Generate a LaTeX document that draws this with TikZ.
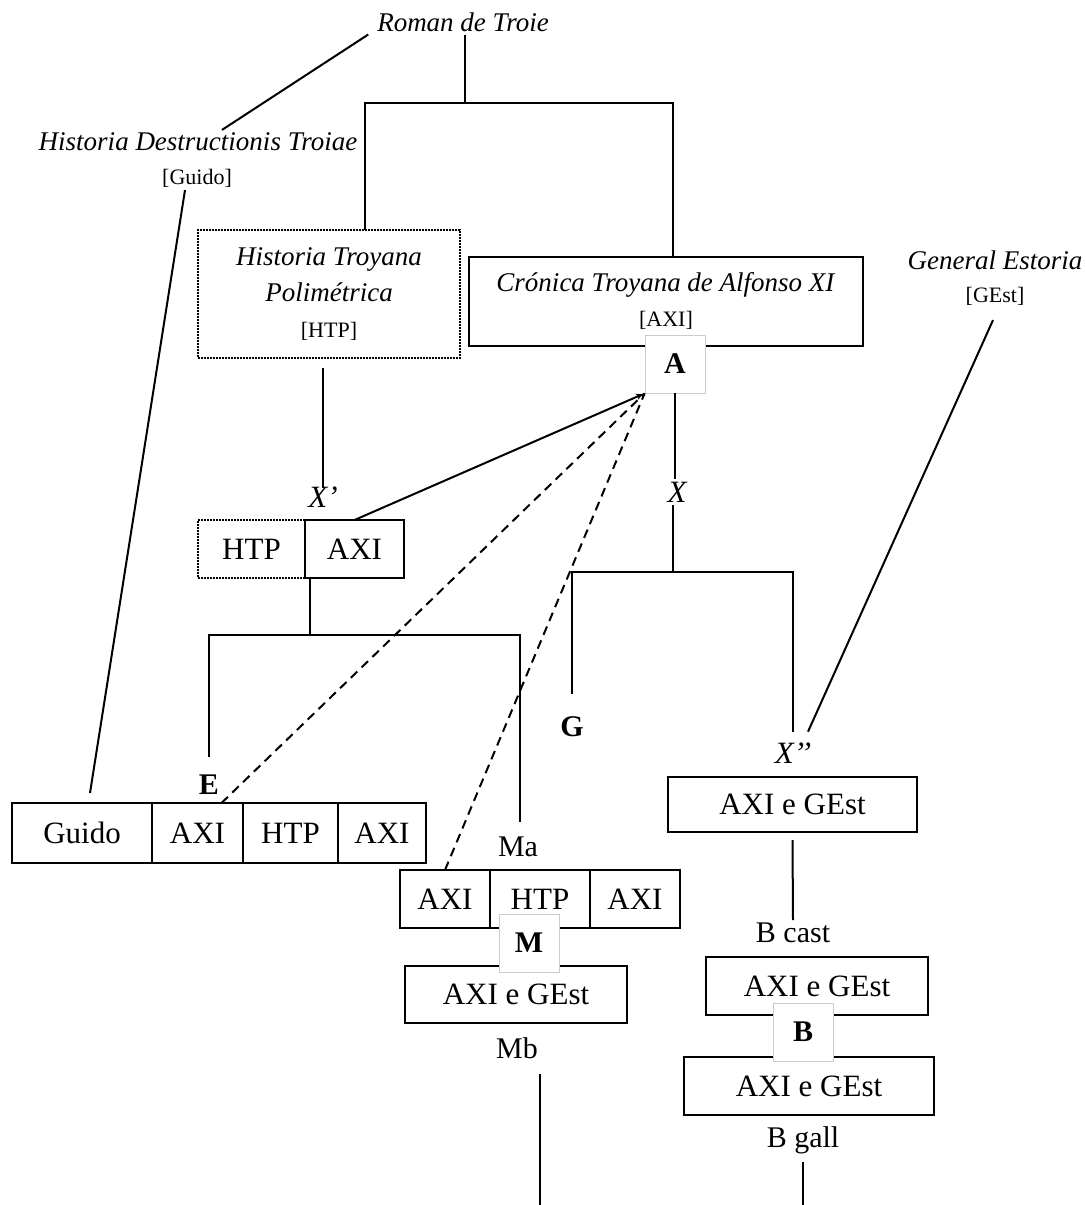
\documentclass[tikz,border=0pt]{standalone}
\usepackage{fontspec}
\setmainfont{Liberation Serif}
\usetikzlibrary{shapes, arrows, positioning}
\tikzstyle{caja}=[draw, rectangle, line width=2pt, inner sep=0pt, outer sep=0pt,
minimum height=58pt, font=\fontsize{31}{35}\selectfont]
\tikzstyle{punteada}=[caja, densely dotted, line width=1.4pt]
\tikzstyle{sigla}=[draw=black!20, line width=0.8pt, fill=white, rectangle,
minimum width=60pt, minimum height=58pt, font=\fontsize{30}{34}\selectfont\bfseries]
\tikzstyle{titulo}=[font=\fontsize{27}{36}\selectfont\itshape, align=center, inner sep=2pt]
\tikzstyle{rama}=[font=\fontsize{31}{35}\selectfont\itshape, inner sep=2pt]
\tikzstyle{nombre}=[font=\fontsize{30}{34}\selectfont, inner sep=2pt]
\tikzstyle{letra}=[font=\fontsize{30}{34}\selectfont\bfseries, inner sep=2pt]
\tikzstyle{corchete}=[font=\fontsize{22}{25}\selectfont, inner sep=2pt]
\tikzstyle{rayas}=[dash pattern=on 9pt off 6pt]

\begin{document}
\begin{tikzpicture}[x=1pt, y=-1pt, >=latex', line width=2pt]
		\useasboundingbox (0,0) rectangle (1085,1205);
		\node[titulo] (roman) at (463,22) {Roman de Troie};
		\node[titulo] (hdt) at (198,142) {Historia Destructionis Troiae};
		\node[corchete] (guidolab) at (197,178) {[Guido]};
		\node[punteada, minimum width=262pt, minimum height=128pt, align=center,
		font=\fontsize{27}{36}\selectfont] (htp) at (329,294)
		{\textit{Historia Troyana}\\\textit{Polimétrica}\\{\fontsize{22}{25}\selectfont[HTP]}};
		\node[caja, minimum width=394pt, minimum height=89pt, align=center,
		font=\fontsize{27}{34}\selectfont] (axi) at (666,301)
		{\textit{Crónica Troyana de Alfonso XI}\\[1pt]{\fontsize{22}{25}\selectfont[AXI]}};
		\node[titulo] (ge) at (995,260) {General Estoria};
		\node[corchete] (gelab) at (995,296) {[GEst]};
		\node[rama] (xp) at (323,497) {X’};
		\node[punteada, minimum width=107pt] (xhtp) at (251.5,549) {HTP};
		\node[caja, minimum width=99pt] (xaxi) at (354.5,549) {AXI};
		\node[letra] (e) at (209,785) {E};
		\node[caja, minimum width=140pt, minimum height=60pt] (guido) at (82,833) {Guido};
		\node[caja, minimum width=91pt, minimum height=60pt, right=0pt of guido] (eaxi1) {AXI};
		\node[caja, minimum width=95pt, minimum height=60pt, right=0pt of eaxi1] (ehtp) {HTP};
		\node[caja, minimum width=88pt, minimum height=60pt, right=0pt of ehtp] (eaxi2) {AXI};
		\node[nombre] (malab) at (518,847) {Ma};
		\node[caja, minimum width=90pt] (maaxi1) at (445,899) {AXI};
		\node[caja, minimum width=100pt, right=0pt of maaxi1] (mahtp) {HTP};
		\node[caja, minimum width=90pt, right=0pt of mahtp] (maaxi2) {AXI};
		\node[caja, minimum width=222pt, minimum height=57pt] (mb) at (516,994.5) {AXI e GEst};
		\node[nombre] (mblab) at (517,1048) {Mb};
		\node[rama] (x) at (677,492) {X};
		\node[letra] (g) at (572,727) {G};
		\node[rama] (xpp) at (793,753) {X’’};
		\node[caja, minimum width=249pt, minimum height=55pt] (xppbox) at (792.5,804.5) {AXI e GEst};
		\node[nombre] (bcastlab) at (793,933) {B cast};
		\node[caja, minimum width=222pt] (bcast) at (817,986) {AXI e GEst};
		\node[caja, minimum width=250pt] (bgall) at (809,1086) {AXI e GEst};
		\node[nombre] (bgalllab) at (803,1140) {B gall};
		\coordinate (r1) at (465,103);
		\coordinate (r2) at (673,572);
		\coordinate (l1) at (310,635);
		\coordinate (fin1) at (540,1205);
		\coordinate (fin2) at (803,1205);
		\draw (roman.south -| r1) -- (r1);
		\draw ([xshift=36pt]htp.north) |- (r1) -| ([xshift=7pt]axi.north);
		\draw ([xshift=-6pt]roman.south west) -- ([xshift=24pt]hdt.north);
		\draw ([xshift=-12pt]guidolab.south) -- ([xshift=8pt,yshift=10pt]guido.north);
		\draw ([xshift=-6pt,yshift=-10pt]htp.south) -- ([xshift=-6pt,yshift=-4pt]htp.south |- xp.north);
		\draw ([xshift=5pt]xaxi.south west) -- (l1);
		\draw ([yshift=15pt]e.north) |- (l1) -| ([xshift=2pt,yshift=12pt]malab.north);
		\draw (x.south -| r2) -- (r2);
		\draw ([yshift=20pt]g.north) |- (r2) -| ([yshift=8pt]xpp.north);
		\draw ([xshift=-2pt,yshift=-12pt]gelab.south) -- ([xshift=15pt,yshift=8pt]xpp.north);
		\draw ([yshift=-8pt]xppbox.south) -- (bcastlab.north);
		\draw[shorten <=12pt] (mblab.south -| fin1) -- (fin1);
		\draw[shorten <=5pt] (bgalllab.south -| fin2) -- (fin2);
		\node[sigla] (m) at (529,943) {M};
		\node[sigla] (b) at (803,1032) {B};
		\node[sigla] (a) at (675,364) {A};
		\draw[->] (xaxi.north) -- (a.south west);
		\draw[rayas] ([xshift=24pt]eaxi1.north) -- (a.south west);
		\draw[rayas] (maaxi1.north) -- (a.south west);
		\draw (a.south) -- (a.south |- x.north);
	\end{tikzpicture}
\end{document}
